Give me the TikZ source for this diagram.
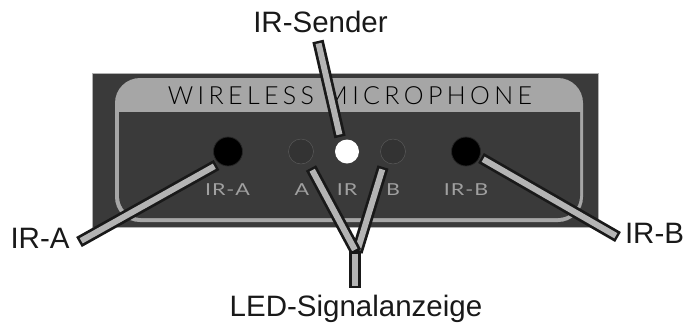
\documentclass[tikz,border=0pt]{standalone}
\usepackage{fontspec}
\setmainfont{Liberation Sans}
\newfontfamily\panelfont[LetterSpace=17.5]{Lato Light}
\newfontfamily\smallfont[LetterSpace=6,FakeStretch=1.3]{Lato}
\definecolor{panel}{HTML}{3A3A3A}
\definecolor{band}{HTML}{A6A6A6}
\definecolor{ledoff}{HTML}{333333}
\definecolor{bartone}{HTML}{B4B4B4}
\definecolor{inklabel}{HTML}{A0A0A0}
\tikzset{
  x=1pt,y=-1pt,
  barline/.style={line width=11.5pt,draw=black!90,line cap=butt},
  barfill/.style={line width=6pt,draw=bartone,line cap=butt,shorten <=2.5pt,shorten >=2.5pt},
  callout/.style={font=\fontsize{29.5}{32}\selectfont,text=black!90,inner sep=0pt,anchor=base},
  paneltext/.style={font=\fontsize{16.5}{18}\selectfont\smallfont,text=inklabel,inner sep=0pt,anchor=base},
  irport/.style={circle,fill=black,draw=black!85,line width=.8pt,minimum size=29pt,inner sep=0pt},
  ledlamp/.style={circle,fill=ledoff,draw=black!65!white,line width=.5pt,minimum size=25pt,inner sep=0pt},
}
\newcommand{\barlink}[2]{%
  \draw[barline] (#1) -- (#2);
  \draw[barfill] (#1) -- (#2);}
\begin{document}
\begin{tikzpicture}
\useasboundingbox (0,0) rectangle (686,325);
\fill[white] (0,0) rectangle (686,325);
\draw[fill=panel,draw=black!30,line width=.6pt] (92,73) rectangle (598,227);
\fill[band,rounded corners=25pt] (115,78) rectangle (583,222);
\fill[panel] (119,112) -- (580,112) [rounded corners=22pt] -- (580,218) -- (119,218) [sharp corners] -- cycle;
\node[font=\fontsize{25}{28}\selectfont\panelfont,text=black,inner sep=0pt,anchor=base] (title) at (350,104) {WIRELESS MICROPHONE};
\node[irport] (ira) at (228,151.5) {};
\node[ledlamp] (leda) at (301,151.5) {};
\node[circle,fill=white,minimum size=24pt,inner sep=0pt] (ledir) at (347,151.5) {};
\node[ledlamp] (ledb) at (393,151.5) {};
\node[irport] (irb) at (466,151.5) {};
\node[paneltext] (lira) at (227.5,195) {IR-A};
\node[paneltext] (la) at (302,195) {A};
\node[paneltext] (lir) at (347,195) {IR};
\node[paneltext] (lb) at (393,195) {B};
\node[paneltext] (lirb) at (466,195) {IR-B};
\coordinate (cs1) at (318,41);
\coordinate (cs2) at (340,137);
\coordinate (ca1) at (216.5,165);
\coordinate (ca2) at (79,242);
\coordinate (cb1) at (481,158);
\coordinate (cb2) at (618,237);
\coordinate (cl1) at (311,168);
\coordinate (cr1) at (383,167);
\coordinate (cj1) at (356,252);
\coordinate (cj2) at (357,252);
\coordinate (st1) at (355,251);
\coordinate (st2) at (355,288);
\barlink{cs1}{cs2}
\barlink{ca1}{ca2}
\barlink{cb1}{cb2}
\barlink{cr1}{cj2}
\barlink{cl1}{cj1}
\barlink{st1}{st2}
\node[callout] (sender) at (320.5,32) {IR-Sender};
\node[callout] (sig) at (356,316.5) {LED-Signalanzeige};
\node[callout] (a) at (40,248) {IR-A};
\node[callout] (b) at (654.5,243) {IR-B};
\end{tikzpicture}
\end{document}
